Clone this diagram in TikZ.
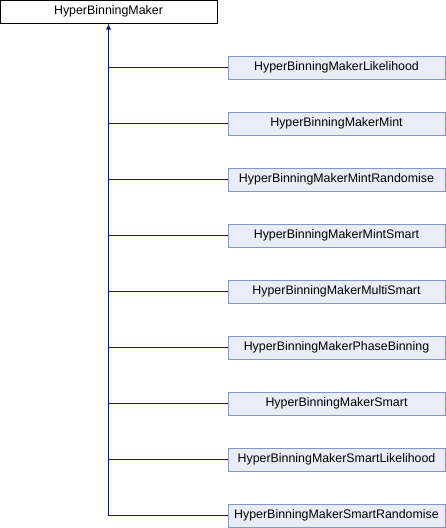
\documentclass[tikz,border=0pt]{standalone}
\usepackage{fontspec}
\setmainfont{Liberation Sans}
\usetikzlibrary{arrows.meta}
\definecolor{edgeblue}{HTML}{191970}
\definecolor{boxfill}{HTML}{E8EDF7}
\definecolor{boxline}{HTML}{8497C8}

\begin{document}
\begin{tikzpicture}[x=1pt,y=-1pt,font=\fontsize{12.4}{14}\selectfont,
base/.style={draw=black, line width=1pt, fill=white, minimum width=217pt,
    minimum height=23pt, inner sep=0pt, anchor=center},
derived/.style={base, draw=boxline, fill=boxfill},
edge/.style={draw=edgeblue, line width=1pt}]
\useasboundingbox (0,0) rectangle (446,528);
\node[base] (maker) at (108.5,11.5) {HyperBinningMaker};
\foreach \name [count=\i] in {Likelihood,Mint,MintRandomise,MintSmart,
    MultiSmart,PhaseBinning,Smart,SmartLikelihood,SmartRandomise}
  \node[derived] (maker-\i) at (336.5,{11.5+56*\i}) {HyperBinningMaker\name};
\draw[edge,{Latex[length=6pt,width=5pt]}-] (maker.south) -- (maker.south |- maker-9.west) -- (maker-9.west);
\foreach \i in {1,...,8}
  \draw[edge] (maker.south |- maker-\i.west) -- (maker-\i.west);
\end{tikzpicture}
\end{document}
